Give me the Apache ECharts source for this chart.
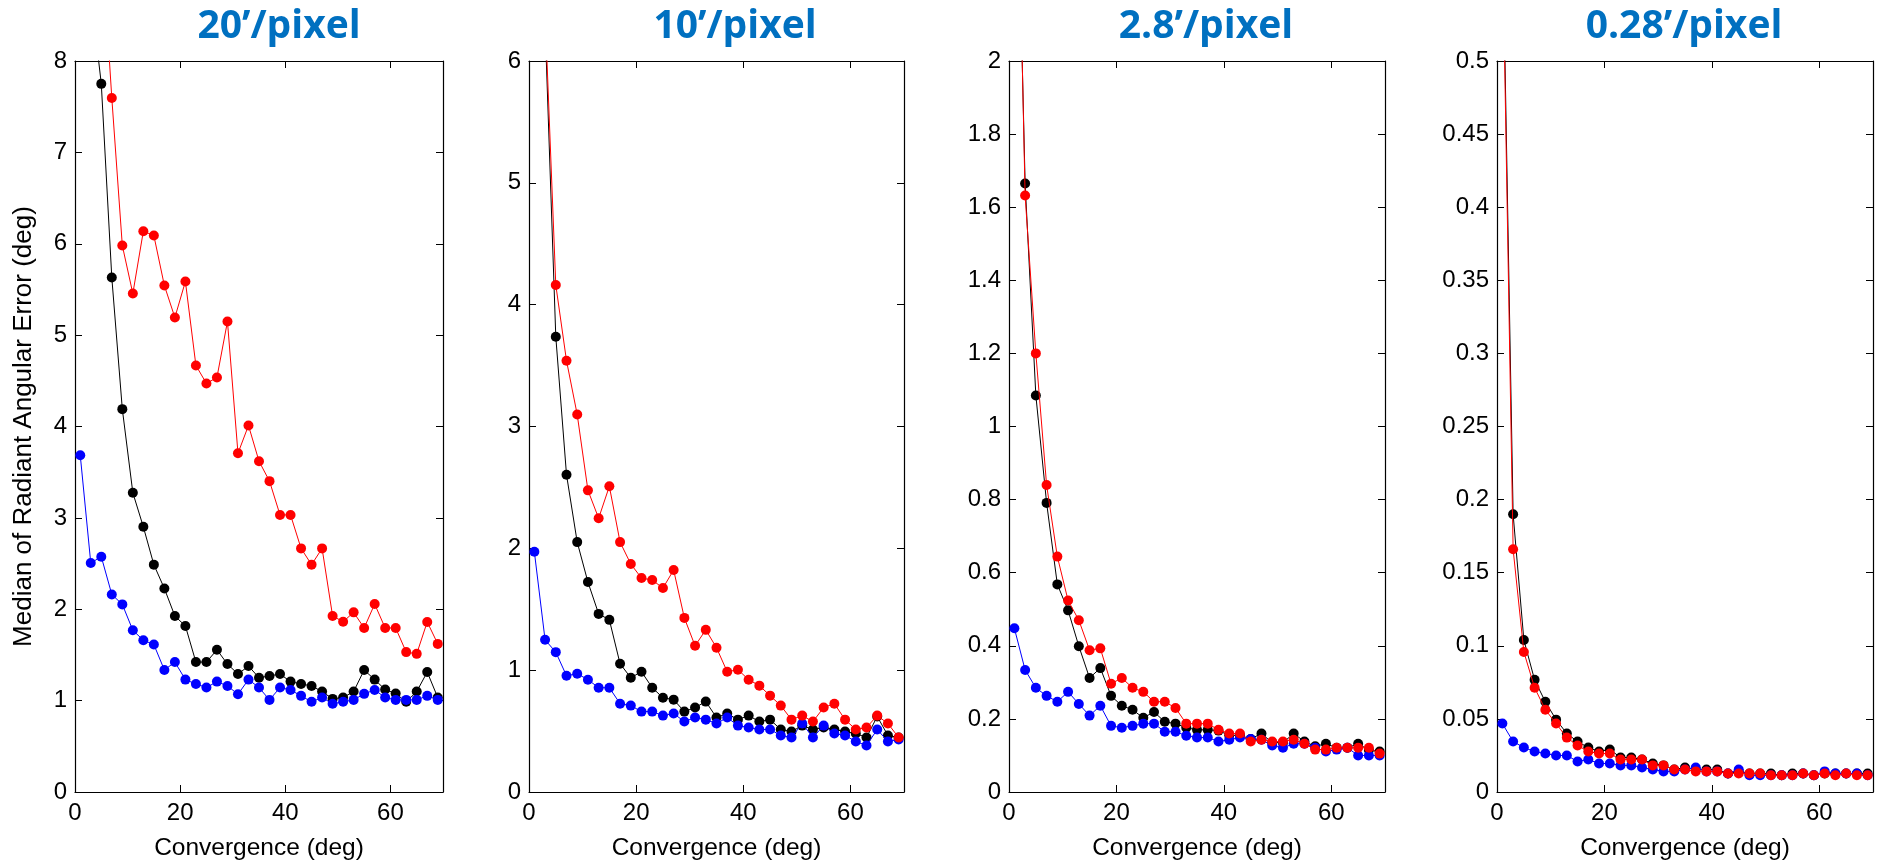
<!DOCTYPE html>
<html>
<head>
<meta charset="utf-8">
<script src="https://cdn.jsdelivr.net/npm/echarts@6/dist/echarts.min.js"></script>
<style>html,body{margin:0;padding:0;background:#fff}#c{width:1885px;height:866px}</style>
</head>
<body>
<div id="c"></div>
<script>
// Convergence angles (deg)
const xs = [1,3,5,7,9,11,13,15,17,19,21,23,25,27,29,31,33,35,37,39,41,43,45,47,49,51,53,55,57,59,61,63,65,67,69];

const titles = ['20’/pixel', '10’/pixel', '2.8’/pixel', '0.28’/pixel'];
const yMaxs = [8, 6, 2, 0.5];
const yIntervals = [1, 1, 0.2, 0.05];
const xTicks = [0, 20, 40, 60];

// Panel 1: 20'/pixel
const p1Black = [12.0,8.75,7.75,5.63,4.19,3.275,2.902,2.488,2.227,1.926,1.817,1.422,1.422,1.556,1.400,1.291,1.378,1.251,1.270,1.291,1.208,1.182,1.161,1.099,1.019,1.034,1.099,1.335,1.230,1.121,1.077,0.987,1.099,1.313,1.034];
const p1Blue = [3.685,2.506,2.575,2.162,2.053,1.770,1.661,1.614,1.335,1.422,1.230,1.182,1.143,1.208,1.161,1.070,1.230,1.143,1.008,1.143,1.117,1.052,0.987,1.034,0.965,0.987,1.008,1.074,1.117,1.034,1.008,1.008,1.008,1.052,1.008];
const p1Red = [16.0,12.0,9.4,7.595,5.98,5.455,6.137,6.09,5.543,5.193,5.587,4.668,4.471,4.537,5.149,3.707,4.011,3.620,3.402,3.032,3.032,2.666,2.488,2.666,1.926,1.864,1.966,1.795,2.057,1.795,1.795,1.531,1.512,1.861,1.621];

// Panel 2: 10'/pixel
const p2Black = [9.0,6.3,3.737,2.604,2.051,1.723,1.462,1.413,1.053,0.938,0.987,0.856,0.774,0.758,0.660,0.693,0.742,0.611,0.644,0.594,0.627,0.578,0.594,0.513,0.496,0.545,0.513,0.530,0.513,0.496,0.480,0.447,0.620,0.464,0.447];
const p2Blue = [1.972,1.249,1.148,0.954,0.971,0.922,0.856,0.856,0.725,0.709,0.660,0.660,0.627,0.644,0.578,0.611,0.594,0.562,0.611,0.545,0.529,0.513,0.513,0.464,0.447,0.562,0.447,0.545,0.480,0.464,0.415,0.382,0.513,0.415,0.431];
const p2Red = [9.5,6.4,4.162,3.54,3.098,2.476,2.247,2.509,2.051,1.871,1.756,1.740,1.674,1.822,1.429,1.200,1.331,1.184,0.987,1.004,0.922,0.873,0.791,0.709,0.594,0.627,0.578,0.693,0.725,0.594,0.513,0.529,0.627,0.562,0.447];

// Panel 3: 2.8'/pixel
const p3Black = [2.9,1.665,1.085,0.791,0.568,0.497,0.399,0.312,0.339,0.263,0.236,0.225,0.203,0.219,0.192,0.187,0.176,0.170,0.170,0.168,0.155,0.155,0.145,0.160,0.135,0.135,0.160,0.138,0.125,0.132,0.121,0.121,0.132,0.115,0.111];
const p3Blue = [0.448,0.334,0.285,0.263,0.247,0.274,0.241,0.209,0.236,0.181,0.176,0.181,0.187,0.187,0.165,0.165,0.154,0.149,0.149,0.138,0.143,0.149,0.145,0.143,0.127,0.121,0.132,0.132,0.121,0.111,0.116,0.121,0.100,0.100,0.100];
const p3Red = [3.0,1.632,1.200,0.840,0.644,0.524,0.470,0.388,0.393,0.296,0.312,0.285,0.274,0.247,0.247,0.230,0.187,0.187,0.187,0.170,0.160,0.160,0.138,0.143,0.138,0.138,0.143,0.132,0.116,0.116,0.121,0.121,0.121,0.121,0.105];

// Panel 4: 0.28'/pixel
const p4Black = [0.60,0.190,0.104,0.0767,0.0617,0.0495,0.0400,0.0345,0.0304,0.0277,0.0291,0.0236,0.0236,0.0222,0.0195,0.0182,0.0154,0.0168,0.0154,0.0154,0.0154,0.0127,0.0141,0.0127,0.0127,0.0127,0.0114,0.0127,0.0127,0.0114,0.0127,0.0127,0.0127,0.0127,0.0127];
const p4Blue = [0.0468,0.0345,0.0304,0.0277,0.0263,0.0250,0.0250,0.0209,0.0222,0.0195,0.0195,0.0182,0.0182,0.0168,0.0154,0.0141,0.0141,0.0154,0.0168,0.0141,0.0141,0.0127,0.0154,0.0114,0.0114,0.0114,0.0114,0.0114,0.0127,0.0114,0.0141,0.0127,0.0127,0.0127,0.0114];
const p4Red = [0.59,0.166,0.0958,0.0713,0.0563,0.0468,0.0372,0.0318,0.0277,0.0263,0.0263,0.0222,0.0222,0.0222,0.0182,0.0182,0.0154,0.0154,0.0141,0.0141,0.0141,0.0127,0.0127,0.0127,0.0127,0.0114,0.0114,0.0114,0.0127,0.0114,0.0127,0.0114,0.0127,0.0114,0.0114];

const panels = [
  [p1Black, p1Blue, p1Red],
  [p2Black, p2Blue, p2Red],
  [p3Black, p3Blue, p3Red],
  [p4Black, p4Blue, p4Red]
];
const seriesColors = ['#000000', '#0000ff', '#ff0000'];

// layout
const gridLeft = [75, 529, 1009, 1497];
const gridWidth = [368, 375, 376, 376];
const gridTop = 61, gridHeight = 733;
const titleCenters = [274, 730, 1201, 1679];

const FONT = "'Liberation Sans', Arial, sans-serif";
const grids = [], xAxes = [], yAxes = [], series = [], titleArr = [];

for (let p = 0; p < 4; p++) {
  grids.push({left: gridLeft[p], top: gridTop, width: gridWidth[p], height: gridHeight, containLabel: false});
  titleArr.push({
    text: titles[p], left: titleCenters[p], top: 2, textAlign: 'center',
    textStyle: {color: '#0070C0', fontSize: 39, fontWeight: 'bold', fontFamily: "'Open Sans', sans-serif"}
  });
  const axisLine = {show: true, onZero: false, lineStyle: {color: '#000', width: 1.2}};
  const tick = {show: true, inside: true, length: 7, lineStyle: {color: '#000', width: 1}};
  xAxes.push({
    type: 'value', gridIndex: p, position: 'bottom', min: 0, max: 70, interval: 20,
    axisLine, axisTick: tick, splitLine: {show: false},
    axisLabel: {color: '#000', fontSize: 24, fontFamily: FONT, margin: 9, showMaxLabel: false,
      formatter: v => (xTicks.indexOf(v) >= 0 ? String(v) : '')},
    name: 'Convergence (deg)', nameLocation: 'middle', nameGap: 44,
    nameTextStyle: {color: '#000', fontSize: 24.5, fontFamily: FONT}
  });
  xAxes.push({
    type: 'value', gridIndex: p, position: 'top', min: 0, max: 70, interval: 20,
    axisLine, axisTick: tick, splitLine: {show: false}, axisLabel: {show: false}
  });
  const yl = {
    type: 'value', gridIndex: p, position: 'left', min: 0, max: yMaxs[p], interval: yIntervals[p],
    axisLine, axisTick: tick, splitLine: {show: false},
    axisLabel: {color: '#000', fontSize: 24, fontFamily: FONT, margin: 8}
  };
  if (p === 0) {
    yl.name = 'Median of Radiant Angular Error (deg)';
    yl.nameLocation = 'middle';
    yl.nameGap = 38;
    yl.nameTextStyle = {color: '#000', fontSize: 26, fontFamily: FONT};
  }
  yAxes.push(yl);
  yAxes.push({
    type: 'value', gridIndex: p, position: 'right', min: 0, max: yMaxs[p], interval: yIntervals[p],
    axisLine, axisTick: tick, splitLine: {show: false}, axisLabel: {show: false}
  });
  panels[p].forEach((vals, s) => {
    series.push({
      type: 'line', xAxisIndex: 2 * p, yAxisIndex: 2 * p, clip: true,
      data: xs.map((x, i) => [x, vals[i]]),
      symbol: 'circle', symbolSize: 10, showAllSymbol: true,
      lineStyle: {color: seriesColors[s], width: 1},
      itemStyle: {color: seriesColors[s]},
      z: 2 + s, animation: false, silent: true
    });
  });
}

const chart = echarts.init(document.getElementById('c'), null, {renderer: 'canvas'});
chart.setOption({
  animation: false,
  backgroundColor: '#fff',
  title: titleArr, grid: grids, xAxis: xAxes, yAxis: yAxes, series
});
</script>
</body>
</html>
